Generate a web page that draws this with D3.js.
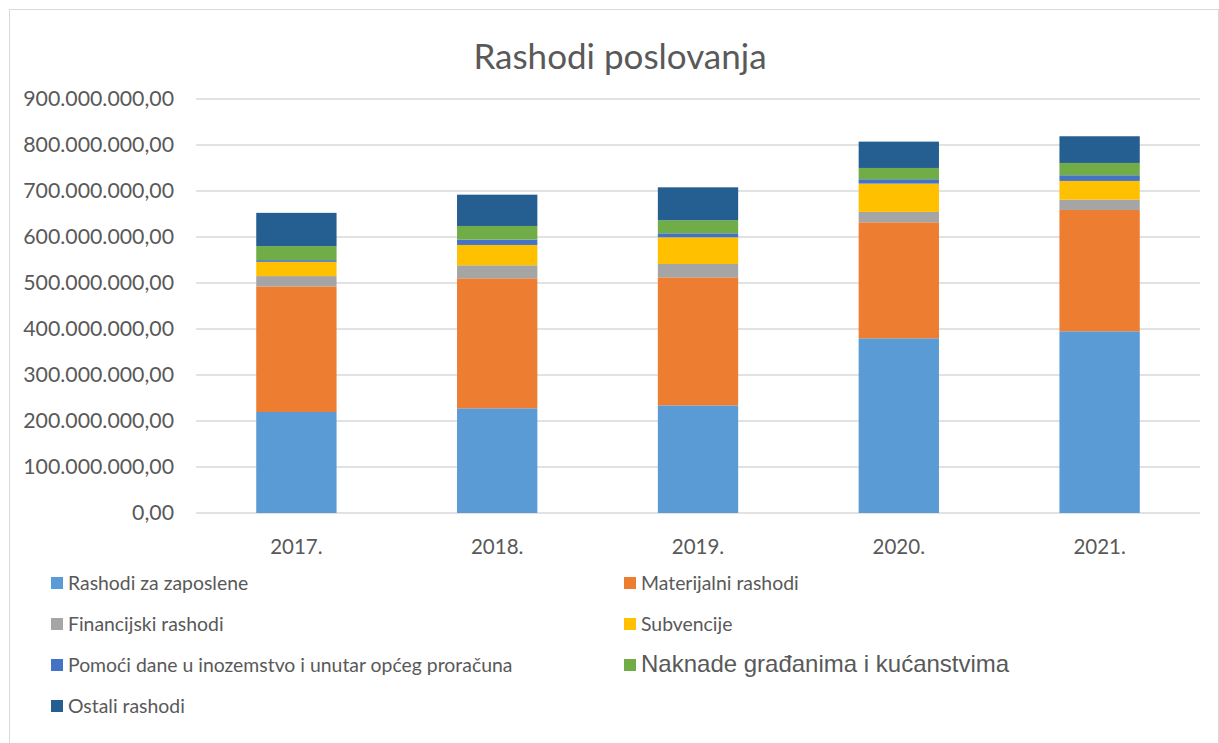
<!DOCTYPE html>
<html>
<head>
<meta charset="utf-8">
<script src="https://cdn.jsdelivr.net/npm/d3@7"></script>
<style>
	body { margin: 0; background: white; }
	text { font-family: Lato, "Open Sans", sans-serif; fill: #595959; }
</style>
</head>
<body>
<script>
var years = ['2017.', '2018.', '2019.', '2020.', '2021.']

var series = [
	'Rashodi za zaposlene',
	'Materijalni rashodi',
	'Financijski rashodi',
	'Subvencije',
	'Pomoći dane u inozemstvo i unutar općeg proračuna',
	'Naknade građanima i kućanstvima',
	'Ostali rashodi'
]

// values in millions
var zaposlene    = [219.6, 227.6, 234.0, 379.8, 395.0]
var materijalni  = [273.0, 282.6, 278.3, 252.2, 263.8]
var financijski  = [22.4, 28.3, 29.0, 22.5, 22.5]
var subvencije   = [31.0, 44.2, 58.0, 61.6, 40.6]
var pomoci       = [3.7, 11.6, 8.7, 9.4, 12.3]
var naknade      = [30.4, 29.7, 28.3, 24.6, 26.8]
var ostali       = [72.4, 68.0, 71.7, 57.2, 58.0]

var yTicks = [0, 100, 200, 300, 400, 500, 600, 700, 800, 900]

var colors = ['#5b9bd5', '#ed7d31', '#a5a5a5', '#ffc000', '#4472c4', '#70ad47', '#255e91']

var width = 1219,
	height = 743

var svg = d3.select('body').append('svg')
	.attr('width', width)
	.attr('height', height)

svg.append('rect')
	.attr('x', 9.5).attr('y', 9.5)
	.attr('width', width - 10).attr('height', height - 9)
	.attr('fill', 'white')
	.attr('stroke', '#d9d9d9')

svg.append('text')
	.attr('x', 620)
	.attr('y', 69)
	.attr('text-anchor', 'middle')
	.style('font-size', '35px')
	.text('Rashodi poslovanja')

var table = years.map(function (y, i) {
	return {
		year: y,
		'Rashodi za zaposlene': zaposlene[i],
		'Materijalni rashodi': materijalni[i],
		'Financijski rashodi': financijski[i],
		'Subvencije': subvencije[i],
		'Pomoći dane u inozemstvo i unutar općeg proračuna': pomoci[i],
		'Naknade građanima i kućanstvima': naknade[i],
		'Ostali rashodi': ostali[i]
	}
})

var stacked = d3.stack().keys(series)(table)

var x = d3.scaleBand()
	.domain(years)
	.range([196, 1200])
	.paddingInner(0.6)
	.paddingOuter(0.3)

var y = d3.scaleLinear()
	.domain([0, 900])
	.range([513, 99])

var fmt = function (d) {
	return d === 0 ? '0,00' : d3.format(',')(d * 1e6).replace(/,/g, '.') + ',00'
}

// gridlines
svg.append('g')
	.selectAll('line')
	.data(yTicks)
	.enter()
	.append('line')
		.attr('x1', 196)
		.attr('x2', 1200)
		.attr('y1', d => y(d))
		.attr('y2', d => y(d))
		.attr('stroke', '#d9d9d9')
		.attr('stroke-width', 1.3)

svg.append('g')
	.selectAll('text')
	.data(yTicks)
	.enter()
	.append('text')
		.attr('x', 174)
		.attr('y', d => y(d) + 7)
		.attr('text-anchor', 'end')
		.style('font-size', '21.3px')
		.text(fmt)

svg.append('g')
	.selectAll('g')
	.data(stacked)
	.enter()
	.append('g')
		.attr('fill', (d, i) => colors[i])
	.selectAll('rect')
	.data(d => d)
	.enter()
	.append('rect')
		.attr('x', d => x(d.data.year))
		.attr('width', x.bandwidth())
		.attr('y', d => y(d[1]))
		.attr('height', d => y(d[0]) - y(d[1]))

svg.append('g')
	.selectAll('text')
	.data(years)
	.enter()
	.append('text')
		.attr('x', d => x(d) + x.bandwidth() / 2)
		.attr('y', 554)
		.attr('text-anchor', 'middle')
		.style('font-size', '20.5px')
		.text(d => d)

// LEGEND
var legendPos = series.map(function (d, i) {
	return { x: i % 2 === 0 ? 51 : 624, y: 583 + Math.floor(i / 2) * 41 }
})

var legend = svg.append('g')
	.selectAll('g')
	.data(series)
	.enter()
	.append('g')
		.attr('transform', (d, i) => 'translate(' + legendPos[i].x + ',' + legendPos[i].y + ')')

legend.append('rect')
	.attr('x', 0)
	.attr('y', -6)
	.attr('width', 12)
	.attr('height', 12)
	.attr('fill', (d, i) => colors[i])

legend.append('text')
	.attr('x', 17)
	.attr('y', 7)
	.style('font-size', d => d.startsWith('Naknade') ? '24px' : '19.4px')
	.style('font-family', d => d.startsWith('Naknade') ? '"Liberation Sans", Arial, sans-serif' : null)
	.text(d => d)
</script>
</body>
</html>
